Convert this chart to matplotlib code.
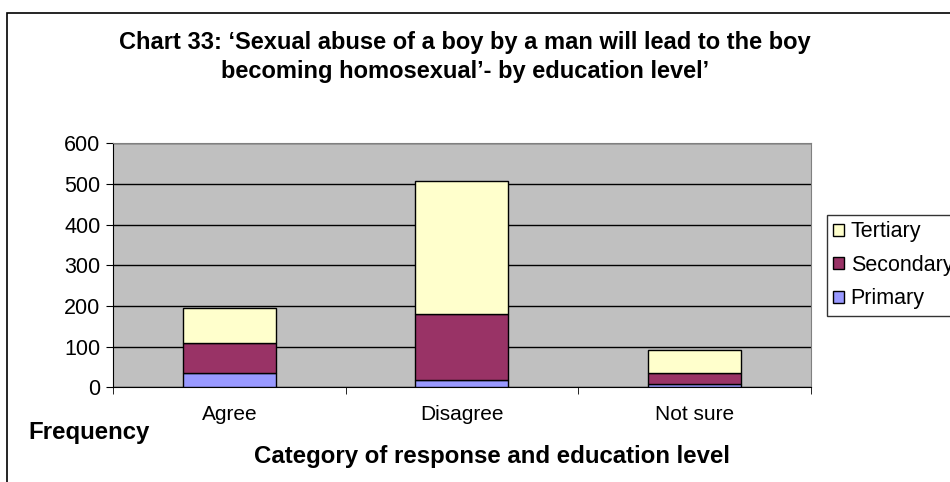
import matplotlib.pyplot as plt
import matplotlib.patches as mpatches
import numpy as np

plt.rcParams['font.family'] = ['Liberation Sans', 'DejaVu Sans']

# === データ ===
categories = ["Agree", "Disagree", "Not sure"]
primary = [34, 19, 7]
secondary = [76, 161, 28]
tertiary = [86, 327, 57]

W, H = 950, 482
fig = plt.figure(figsize=(W / 100, H / 100), dpi=100)
ax = fig.add_axes([113 / W, 1 - 387.3 / H, (810.7 - 113) / W, (387.3 - 143.3) / H])

x = np.arange(len(categories))
bw = 0.4
b1 = ax.bar(x, primary, bw, color="#9999FF", edgecolor="black", linewidth=1, label="Primary", zorder=3)
b2 = ax.bar(x, secondary, bw, bottom=primary, color="#993366", edgecolor="black", linewidth=1,
            label="Secondary", zorder=3)
bottom3 = np.array(primary) + np.array(secondary)
b3 = ax.bar(x, tertiary, bw, bottom=bottom3, color="#FFFFCC", edgecolor="black", linewidth=1,
            label="Tertiary", zorder=3)

ax.set_facecolor("#C0C0C0")
ax.set_xlim(-0.5, 2.5)
ax.set_ylim(0, 600)
ax.set_yticks(range(0, 601, 100))
ax.yaxis.grid(True, color="black", linewidth=1, zorder=1)
ax.set_axisbelow(True)

ax.set_xticks(x)
ax.set_xticklabels(categories, fontsize=15)
ax.set_xticks([-0.5, 0.5, 1.5, 2.5], minor=True)
ax.tick_params(axis="x", which="major", length=0, pad=13)
ax.tick_params(axis="x", which="minor", length=5, direction="out", color="black")
ax.tick_params(axis="y", length=5, direction="out", labelsize=15.5, pad=4)

for s in ["top", "right"]:
    ax.spines[s].set_color("#808080")
for s in ["left", "bottom"]:
    ax.spines[s].set_color("black")

# タイトル・ラベル
fig.text(465 / W, 1 - 57 / H,
         "Chart 33: \u2018Sexual abuse of a boy by a man will lead to the boy\nbecoming homosexual\u2019- by education level\u2019",
         ha="center", va="center", fontsize=17, fontweight="bold", linespacing=1.35)
fig.text(89.5 / W, 1 - 432 / H, "Frequency", ha="center", va="center", fontsize=17.3, fontweight="bold")
fig.text(492 / W, 1 - 456 / H, "Category of response and education level", ha="center", va="center",
         fontsize=17.3, fontweight="bold")

# 凡例
leg = fig.legend([b3, b2, b1], ["Tertiary", "Secondary", "Primary"], loc="upper left",
                 bbox_to_anchor=(827 / W, 1 - 215 / H), fontsize=15.5, frameon=True, fancybox=False,
                 handlelength=0.5, handleheight=0.5, handletextpad=0.3, labelspacing=0.58,
                 borderpad=0.3, borderaxespad=0)
leg.get_frame().set_edgecolor("black")
leg.get_frame().set_linewidth(1)

# 外枠
fig.patches.append(mpatches.Rectangle((7 / W, -0.5), 2, 1.5 - 12.5 / H, transform=fig.transFigure,
                                      fill=False, edgecolor="black", linewidth=1.2))

fig.savefig("out.png", dpi=100)
